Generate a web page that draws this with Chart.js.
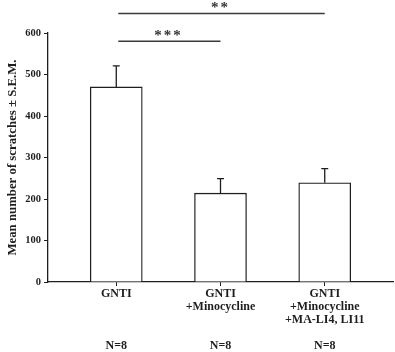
<!DOCTYPE html>
<html><head><meta charset="utf-8">
<script src="https://cdn.jsdelivr.net/npm/chart.js@4.4.1/dist/chart.umd.min.js"></script>
<style>html,body{margin:0;padding:0;background:#fff;}#wrap{width:395px;height:352px;}</style>
</head><body><div id="wrap"><canvas id="c" width="395" height="352"></canvas></div>
<script>
const categories = [['GNTI'], ['GNTI', '+Minocycline'], ['GNTI', '+Minocycline', '+MA-LI4, LI11']];
const groupN = ['N=8', 'N=8', 'N=8'];
const means = [470, 214, 239];
const sem = [51, 35, 34];
const yTicks = [0, 100, 200, 300, 400, 500, 600];
const yTitle = 'Mean number of scratches \u00B1 S.E.M.';
const sigFrom = [0, 0];
const sigTo = [1, 2];
const sigLevel = [580, 647];
const sigLabel = ['***', '**'];

const FONT = '"Liberation Serif", "Times New Roman", serif';
const INK = '#1e1e1e';

const overlay = {
  id: 'overlay',
  afterDatasetsDraw(chart) {
    const ctx = chart.ctx, xs = chart.scales.x, ys = chart.scales.y;
    ctx.save();
    ctx.strokeStyle = INK; ctx.lineWidth = 1.3;
    means.forEach((m, i) => {
      const x = xs.getPixelForValue(i);
      const y0 = ys.getPixelForValue(m), y1 = ys.getPixelForValue(m + sem[i]);
      ctx.beginPath(); ctx.moveTo(x, y0); ctx.lineTo(x, y1);
      ctx.moveTo(x - 3.5, y1); ctx.lineTo(x + 3.5, y1); ctx.stroke();
    });
    ctx.strokeStyle = '#3a3a3a'; ctx.lineWidth = 1.6;
    ctx.fillStyle = '#333'; ctx.font = 'bold 15px ' + FONT;
    ctx.textAlign = 'center'; ctx.textBaseline = 'middle';
    sigLevel.forEach((lv, k) => {
      const xa = xs.getPixelForValue(sigFrom[k]) + 2, xb = xs.getPixelForValue(sigTo[k]);
      const y = ys.getPixelForValue(lv);
      ctx.beginPath(); ctx.moveTo(xa, y); ctx.lineTo(xb, y); ctx.stroke();
      const cx = (xa + xb) / 2 - 2, n = sigLabel[k].length, sp = 9.5;
      for (let j = 0; j < n; j++) {
        ctx.fillText('*', cx + (j - (n - 1) / 2) * sp, y - 5);
      }
    });
    ctx.restore();
  }
};

new Chart(document.getElementById('c'), {
  type: 'bar',
  data: {
    datasets: [{
      data: means.map((m, i) => ({x: i, y: m})),
      backgroundColor: '#ffffff',
      borderColor: INK,
      borderWidth: 1.3,
      barThickness: 52
    }]
  },
  options: {
    responsive: false,
    animation: false,
    devicePixelRatio: 1,
    layout: {padding: {top: 33, right: 2, left: 0, bottom: -2}},
    plugins: {legend: {display: false}, tooltip: {enabled: false}},
    scales: {
      x: {
        type: 'linear', min: -0.655, max: 2.655, offset: false,
        afterBuildTicks: s => { s.ticks = categories.map((c, i) => ({value: i})); },
        border: {color: INK, width: 1.3},
        grid: {offset: false, drawOnChartArea: false, drawTicks: true, tickLength: 4, color: INK, lineWidth: 1},
        ticks: {
          autoSkip: false, maxRotation: 0, padding: 1, color: INK,
          font: {family: FONT, size: 12, weight: 'bold', lineHeight: 1.1},
          callback: (v) => {
            const i = Math.round(v);
            const lines = categories[i].slice();
            while (lines.length < 4) lines.push('');
            lines.push(groupN[i]);
            return lines;
          }
        }
      },
      y: {
        min: 0, max: 600,
        afterBuildTicks: s => { s.ticks = yTicks.map(v => ({value: v})); },
        afterFit: s => { s.width = 48; },
        border: {color: INK, width: 1.3},
        grid: {drawOnChartArea: false, drawTicks: true, tickLength: 4, color: INK, lineWidth: 1},
        ticks: {padding: 3, color: INK, font: {family: FONT, size: 10.5, weight: 'bold'}},
        title: {display: true, text: yTitle, color: INK, padding: {top: 5, bottom: 0},
          font: {family: FONT, size: 12.8, weight: 'bold'}}
      }
    }
  },
  plugins: [overlay]
});
</script></body></html>
